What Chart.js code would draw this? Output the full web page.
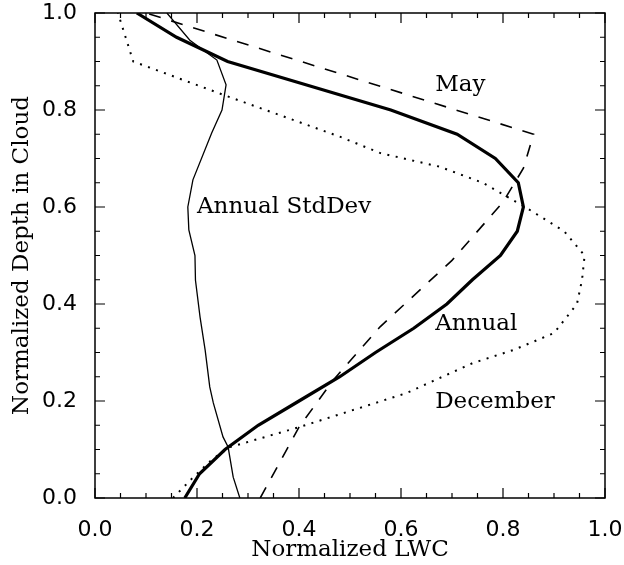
<!DOCTYPE html>
<html>
<head>
<meta charset="utf-8">
<script src="https://cdn.jsdelivr.net/npm/chart.js@4/dist/chart.umd.min.js"></script>
<style>
  body { margin: 0; background: #fff; }
  canvas { display: block; }
</style>
</head>
<body>
<canvas id="lwc" width="624" height="565"></canvas>
<script>
// normalized depth levels (0 = cloud base, 1 = cloud top)
const annualDepth = [0, 0.05, 0.10, 0.15, 0.20, 0.25, 0.30, 0.35, 0.40, 0.45, 0.50,
                     0.55, 0.60, 0.65, 0.70, 0.75, 0.80, 0.85, 0.90, 0.95, 1.0]
const annualLwc = [0.176, 0.205, 0.255, 0.32, 0.40, 0.48, 0.55, 0.625, 0.69, 0.74, 0.795,
                   0.828, 0.84, 0.83, 0.785, 0.71, 0.58, 0.42, 0.26, 0.16, 0.082]

const mayDepth = [0, 0.146, 0.243, 0.353, 0.49, 0.61, 0.68, 0.75, 1.0]
const mayLwc = [0.324, 0.40, 0.467, 0.559, 0.70, 0.80, 0.84, 0.86, 0.10]

const decDepth = [0, 0.04, 0.08, 0.105, 0.146, 0.175, 0.216, 0.278, 0.305, 0.34, 0.40,
                  0.45, 0.50, 0.55, 0.602, 0.65, 0.683, 0.711, 0.745, 0.83, 0.90, 0.95, 1.0]
const decLwc = [0.153, 0.19, 0.23, 0.265, 0.40, 0.487, 0.61, 0.74, 0.82, 0.90, 0.945,
                0.955, 0.96, 0.92, 0.84, 0.76, 0.676, 0.56, 0.48, 0.255, 0.075, 0.06, 0.045]

const sdDepth = [0, 0.043, 0.105, 0.126, 0.196, 0.229, 0.305, 0.373, 0.449, 0.50,
                 0.553, 0.60, 0.656, 0.753, 0.80, 0.852, 0.903, 0.944, 1.0]
const sdLwc = [0.284, 0.271, 0.261, 0.251, 0.232, 0.225, 0.216, 0.206, 0.197, 0.196,
               0.184, 0.182, 0.192, 0.229, 0.249, 0.257, 0.239, 0.186, 0.141]

const tickValues = [0, 0.2, 0.4, 0.6, 0.8, 1.0]

// curve labels placed in data units
const curveLabels = [
  { text: 'May', x: 0.667, y: 0.852 },
  { text: 'Annual StdDev', x: 0.2, y: 0.60 },
  { text: 'Annual', x: 0.667, y: 0.359 },
  { text: 'December', x: 0.667, y: 0.198 }
]

const serif = 'DejaVu Serif'
const sans = 'DejaVu Sans'

function pts(xs, ys) {
  return xs.map((v, i) => ({ x: v, y: ys[i] }))
}

// box around the plot with inward major/minor ticks on all four sides
const frame = {
  id: 'frame',
  afterDatasetsDraw(chart) {
    const { ctx, chartArea: a, scales } = chart
    ctx.save()
    ctx.strokeStyle = '#000'
    ctx.lineWidth = 1.5
    ctx.strokeRect(a.left, a.top, a.right - a.left, a.bottom - a.top)
    ctx.lineWidth = 1.2
    ctx.beginPath()
    for (let i = 0; i <= 20; i++) {
      const v = i / 20
      const len = i % 4 === 0 ? 10 : 5
      const px = scales.x.getPixelForValue(v)
      const py = scales.y.getPixelForValue(v)
      ctx.moveTo(px, a.bottom); ctx.lineTo(px, a.bottom - len)
      ctx.moveTo(px, a.top); ctx.lineTo(px, a.top + len)
      ctx.moveTo(a.left, py); ctx.lineTo(a.left + len, py)
      ctx.moveTo(a.right, py); ctx.lineTo(a.right - len, py)
    }
    ctx.stroke()

    ctx.fillStyle = '#000'
    ctx.font = '23px "' + serif + '"'
    ctx.textAlign = 'left'
    ctx.textBaseline = 'middle'
    curveLabels.forEach(l => {
      ctx.fillText(l.text, scales.x.getPixelForValue(l.x), scales.y.getPixelForValue(l.y))
    })
    ctx.restore()
  }
}

const line = { showLine: true, pointRadius: 0, borderColor: '#000', fill: false, tension: 0 }

new Chart(document.getElementById('lwc'), {
  type: 'scatter',
  data: {
    datasets: [
      { ...line, label: 'Annual', data: pts(annualLwc, annualDepth), borderWidth: 3.2 },
      { ...line, label: 'May', data: pts(mayLwc, mayDepth), borderWidth: 1.6, borderDash: [12, 11] },
      { ...line, label: 'December', data: pts(decLwc, decDepth), borderWidth: 2, borderDash: [2, 6.5] },
      { ...line, label: 'Annual StdDev', data: pts(sdLwc, sdDepth), borderWidth: 1.3 }
    ]
  },
  options: {
    responsive: false,
    animation: false,
    layout: { padding: { top: 13, right: 19, left: 0, bottom: 0 } },
    plugins: { legend: { display: false }, tooltip: { enabled: false } },
    scales: {
      x: {
        type: 'linear', min: 0, max: 1,
        afterBuildTicks: s => { s.ticks = tickValues.map(v => ({ value: v })) },
        afterFit: s => { s.height = 67; s.paddingLeft = 0; s.paddingRight = 0 },
        grid: { display: false },
        border: { display: false },
        ticks: { color: '#000', padding: 11, font: { family: sans, size: 22 }, callback: v => v.toFixed(1) },
        title: { display: true, text: 'Normalized LWC', color: '#000', font: { family: serif, size: 23 }, padding: { top: 0, bottom: 1 } }
      },
      y: {
        type: 'linear', min: 0, max: 1,
        afterBuildTicks: s => { s.ticks = tickValues.map(v => ({ value: v })) },
        afterFit: s => { s.width = 95; s.paddingTop = 0; s.paddingBottom = 0 },
        grid: { display: false },
        border: { display: false },
        ticks: { color: '#000', padding: 10, font: { family: sans, size: 22 }, callback: v => v.toFixed(1) },
        title: { display: true, text: 'Normalized Depth in Cloud', color: '#000', font: { family: serif, size: 23 }, padding: { top: 8, bottom: 0 } }
      }
    }
  },
  plugins: [frame]
})
</script>
</body>
</html>
